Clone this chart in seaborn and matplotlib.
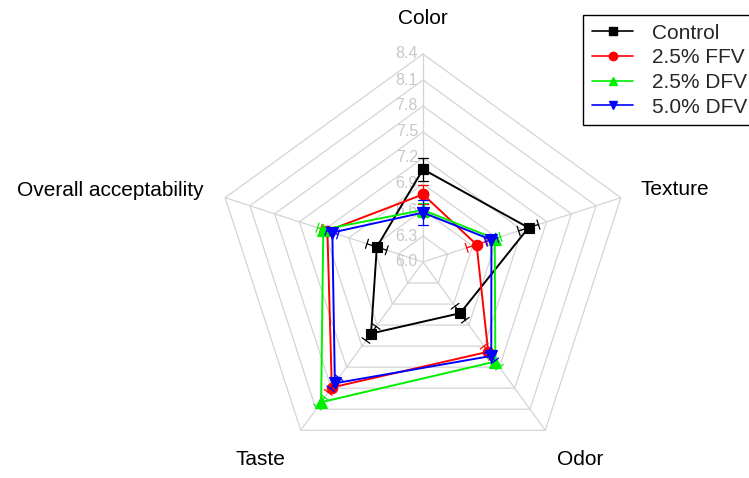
import numpy as np
import pandas as pd
import matplotlib
matplotlib.use("Agg")
import matplotlib.pyplot as plt
from matplotlib.lines import Line2D
import seaborn as sns

# Sensory attributes (clockwise from the top)
attributes = ["Color", "Texture", "Odor", "Taste", "Overall acceptability"]

# Mean sensory scores per formulation
series_names = ["Control", "2.5% FFV", "2.5% DFV", "5.0% DFV"]
control = [7.07, 7.28, 6.73, 7.02, 6.56]
ffv_25 = [6.78, 6.65, 7.28, 7.79, 7.16]
dfv_25 = [6.60, 6.87, 7.42, 8.00, 7.21]
dfv_50 = [6.57, 6.83, 7.34, 7.73, 7.10]

# Standard deviations
control_err = [0.13, 0.12, 0.10, 0.10, 0.12]
ffv_25_err = [0.11, 0.12, 0.08, 0.07, 0.08]
dfv_25_err = [0.08, 0.07, 0.08, 0.07, 0.07]
dfv_50_err = [0.14, 0.07, 0.07, 0.08, 0.07]

# Radial scale
radial_ticks = [6.0, 6.3, 6.6, 6.9, 7.2, 7.5, 7.8, 8.1, 8.4]

colors = ["#000000", "#ff0000", "#00f000", "#0000ff"]
markers = ["s", "o", "^", "v"]
marker_sizes = [7.5, 7.5, 8.5, 8.5]

sns.set_theme(style="white")
plt.rcParams["font.family"] = ["Liberation Sans", "DejaVu Sans"]

W, H = 749, 478
fig = plt.figure(figsize=(W / 100, H / 100), dpi=100)
ax = fig.add_axes([0, 0, 1, 1])
ax.set_axis_off()

# Centre of the web in pixels and pixels per score unit
cx, cy = 423, H - 262
scale = 208 / (radial_ticks[-1] - radial_ticks[0])
ax.set_xlim(-cx / scale, (W - cx) / scale)
ax.set_ylim(-cy / scale, (H - cy) / scale)

r0 = radial_ticks[0]
r_max = radial_ticks[-1] - r0
n = len(attributes)
angles = np.pi / 2 - 2 * np.pi * np.arange(n) / n
ux, uy = np.cos(angles), np.sin(angles)

grid_color = "#d4d4d4"
# Pentagon rings
for t in radial_ticks[1:]:
    r = t - r0
    ax.plot(np.append(ux, ux[0]) * r, np.append(uy, uy[0]) * r,
            color=grid_color, lw=0.9, zorder=1)
# Spokes
for i in range(n):
    ax.plot([0, ux[i] * r_max], [0, uy[i] * r_max], color=grid_color, lw=0.9, zorder=1)

# Radial tick labels along the Color spoke
for t in radial_ticks:
    ax.annotate(f"{t:.1f}", xy=(0, t - r0), xytext=(-5, 0), textcoords="offset pixels",
                ha="right", va="center", color="#c8c8c8", fontsize=11.5, zorder=2)

# Attribute labels around the web
label_offsets = [((0, 26), "center", "bottom"),
                 ((20, 8), "left", "center"),
                 ((35, -20), "center", "top"),
                 ((-40, -20), "center", "top"),
                 ((-22, 7), "right", "center")]
for i, name in enumerate(attributes):
    (dx, dy), ha, va = label_offsets[i]
    ax.annotate(name, xy=(ux[i] * r_max, uy[i] * r_max), xytext=(dx, dy),
                textcoords="offset pixels", ha=ha, va=va, fontsize=15, color="black")

all_values = [control, ffv_25, dfv_25, dfv_50]
all_errors = [control_err, ffv_25_err, dfv_25_err, dfv_50_err]
cap = 0.055

for k, (vals, errs) in enumerate(zip(all_values, all_errors)):
    r = np.array(vals) - r0
    x = ux * r
    y = uy * r
    df = pd.DataFrame({"x": np.append(x, x[0]), "y": np.append(y, y[0])})
    sns.lineplot(data=df, x="x", y="y", sort=False, estimator=None, ax=ax,
                 color=colors[k], lw=1.4, marker=markers[k], markersize=marker_sizes[k],
                 markeredgecolor=colors[k], markeredgewidth=0.8, zorder=4 + k, legend=False)
    # Radial error bars with caps
    for i in range(n):
        lo, hi = r[i] - errs[i], r[i] + errs[i]
        ax.plot([ux[i] * lo, ux[i] * hi], [uy[i] * lo, uy[i] * hi],
                color=colors[k], lw=0.9, zorder=4 + k)
        px, py = -uy[i], ux[i]
        for e in (lo, hi):
            ax.plot([ux[i] * e - px * cap, ux[i] * e + px * cap],
                    [uy[i] * e - py * cap, uy[i] * e + py * cap],
                    color=colors[k], lw=0.9, zorder=4 + k)

ax.set_xlim(-cx / scale, (W - cx) / scale)
ax.set_ylim(-cy / scale, (H - cy) / scale)

handles = [Line2D([], [], color=colors[k], lw=1.2, marker=markers[k], markersize=6,
                  markeredgecolor=colors[k]) for k in range(len(series_names))]
leg = fig.legend(handles, series_names, loc="upper left",
                 bbox_to_anchor=(583 / W, (H - 15) / H), fontsize=15,
                 frameon=True, fancybox=False, edgecolor="black", framealpha=1,
                 borderpad=0.42, labelspacing=0.27, handlelength=2.0,
                 handletextpad=0.9, borderaxespad=0)
leg.get_frame().set_linewidth(1.0)

fig.savefig("out.png", dpi=100, facecolor="white")
